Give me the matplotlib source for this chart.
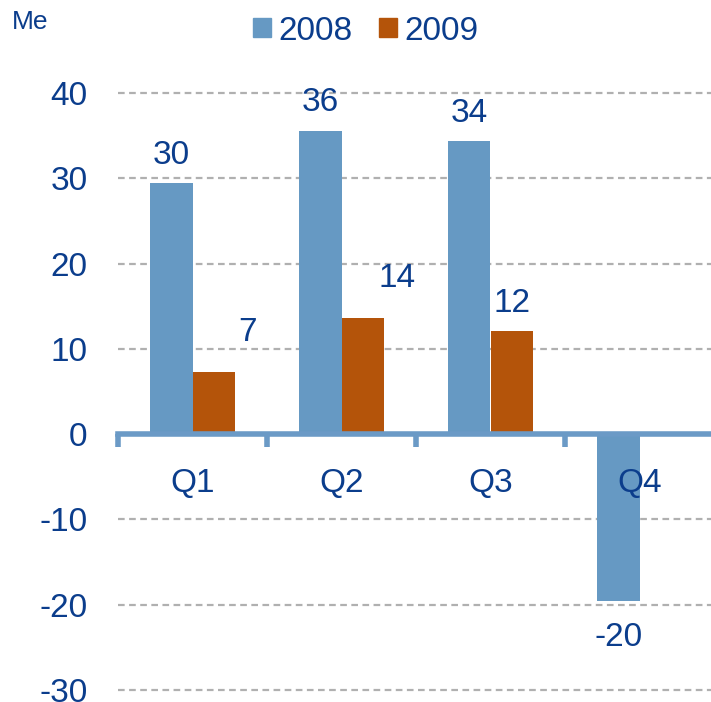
import matplotlib
matplotlib.use("Agg")
import matplotlib.pyplot as plt
from matplotlib.patches import Patch
from matplotlib.transforms import offset_copy

categories = ["Q1", "Q2", "Q3", "Q4"]
series_names = ["2008", "2009"]
values_2008 = [29.5, 35.6, 34.4, -19.6]
values_2009 = [7.3, 13.6, 12.1, 0.0]
labels_2008 = ["30", "36", "34", "-20"]
labels_2009 = ["7", "14", "12", None]
yticks = [-30, -20, -10, 0, 10, 20, 30, 40]

plt.rcParams['font.family'] = ['Liberation Sans', 'DejaVu Sans']
txt = "#0b3d8c"
c08 = "#6699c3"
c09 = "#b4540a"
axis_c = "#6b9ac6"
FS = 24

fig = plt.figure(figsize=(7.11, 7.02), dpi=100)
ax = fig.add_axes([118/711, 1-690/702, 596/711, 597/702])
ax.set_xlim(-0.5, 3.5)
ax.set_ylim(-30, 40)

w = 0.285
x = list(range(len(categories)))
ax.bar([i - w/2 for i in x], values_2008, width=w, color=c08, zorder=3)
ax.bar([i + w/2 for i in x], values_2009, width=w, color=c09, zorder=3)

for t in yticks:
    if t != 0:
        ax.axhline(t, color="#b0b0b0", lw=1.6, ls=(0, (3, 2)), zorder=1, clip_on=False)

for s in ["top", "right", "left"]:
    ax.spines[s].set_visible(False)
ax.spines["bottom"].set_position(("data", 0))
ax.spines["bottom"].set_color(axis_c)
ax.spines["bottom"].set_linewidth(4)
ax.spines["bottom"].set_zorder(4)
ax.set_xticks([-0.5, 0.5, 1.5, 2.5])
ax.tick_params(axis="x", length=9, width=4, color=axis_c, labelbottom=False, direction="out")
ax.set_yticks(yticks)
ax.set_yticklabels([str(t) for t in yticks])
ax.tick_params(axis="y", length=0, pad=22, labelsize=FS, labelcolor=txt)

for i, c in enumerate(categories):
    ax.text(i, 0, c, ha="center", va="baseline", fontsize=FS, color=txt,
            transform=offset_copy(ax.transData, fig=fig, x=0, y=-58, units="dots"), zorder=5)

# value labels (offsets in pixels, baseline-relative)
off08 = [(0, 19), (0, 20), (0, 19), (0, -45)]
off09 = [(34, 31), (34, 31), (0, 19), (0, 0)]
for i in x:
    dx, dy = off08[i]
    ax.text(i - w/2, values_2008[i], labels_2008[i], ha="center", va="baseline", fontsize=FS, color=txt,
            transform=offset_copy(ax.transData, fig=fig, x=dx, y=dy, units="dots"), zorder=5)
    if labels_2009[i] is not None:
        dx, dy = off09[i]
        ax.text(i + w/2, values_2009[i], labels_2009[i], ha="center", va="baseline", fontsize=FS, color=txt,
                transform=offset_copy(ax.transData, fig=fig, x=dx, y=dy, units="dots"), zorder=5)

fig.text(12/711, 1-29/702, "Me", fontsize=19, color=txt, ha="left", va="baseline")

handles = [Patch(color=c08), Patch(color=c09)]
leg = fig.legend(handles, series_names, loc="center", bbox_to_anchor=(366/711, 1-31/702),
                 ncol=2, frameon=False, fontsize=FS, handlelength=0.54, handleheight=0.52,
                 handletextpad=0.22, columnspacing=0.8, borderaxespad=0, borderpad=0)
for t in leg.get_texts():
    t.set_color(txt)

fig.savefig("out.png", dpi=100)
